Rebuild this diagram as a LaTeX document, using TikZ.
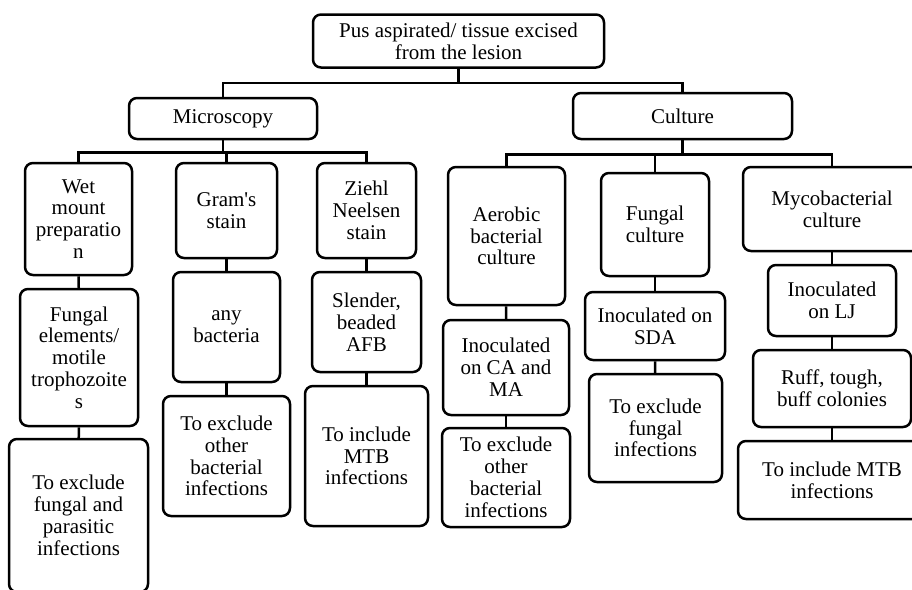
\documentclass[tikz,border=0pt]{standalone}
\usepackage{fontspec}
\setmainfont{Liberation Serif}[Ligatures=TeXOff]
\begin{document}
\begin{tikzpicture}[x=1pt,y=-1pt,
  box/.style={draw=black, line width=2.5pt, rounded corners=8pt, align=center,
    inner sep=1pt, font=\fontsize{21}{21.8}\selectfont},
  conn/.style={draw=black, line width=2.5pt}]
\useasboundingbox (0,0) rectangle (912,589);
\begin{scope}
\clip (0,0) rectangle (912,589);
% box macro: name, center x, center y, width, height, text
\newcommand\bx[6]{\node[box, minimum width=#4pt, minimum height=#5pt] (#1) at (#2,#3) {#6};}
\bx{root}{458.5}{41}{291}{53}{Pus aspirated/ tissue excised\\from the lesion}
\bx{micro}{223}{118.5}{188}{41}{Microscopy}
\bx{cult}{682.5}{116}{219}{46}{Culture}
% microscopy column
\bx{wet}{78.5}{219}{107}{112}{Wet\\mount\\preparatio\\n}
\bx{fel}{79}{357.5}{118}{137}{Fungal\\elements/\\motile\\trophozoite\\s}
\bx{wex}{78.5}{515.5}{139}{153}{To exclude\\fungal and\\parasitic\\infections}
\bx{gram}{226.5}{210.5}{101}{95}{Gram's\\stain}
\bx{anyb}{226.5}{327}{107}{110}{any\\bacteria}
\bx{gex}{226.5}{456}{127}{120}{To exclude\\other\\bacterial\\infections}
\bx{zn}{366.5}{210.5}{99}{95}{Ziehl\\Neelsen\\stain}
\bx{sl}{366.5}{322}{109}{100}{Slender,\\beaded\\AFB}
\bx{zin}{366.5}{456}{123}{140}{To include\\MTB\\infections}
% culture column
\bx{aer}{506.5}{236}{117}{138}{Aerobic\\bacterial\\culture}
\bx{ica}{506}{367.5}{126}{95}{Inoculated\\on CA and\\MA}
\bx{aex}{506}{477.5}{128}{99}{To exclude\\other\\bacterial\\infections}
\bx{fung}{655}{224.5}{108}{103}{Fungal\\culture}
\bx{isda}{655}{326}{140}{68}{Inoculated on\\SDA}
\bx{fex}{655.5}{428}{133}{108}{To exclude\\fungal\\infections}
\bx{myco}{832}{209}{178}{84}{Mycobacterial\\culture}
\bx{ilj}{832}{300.5}{128}{71}{Inoculated\\on LJ}
\bx{ruff}{832}{388.5}{158}{77}{Ruff, tough,\\buff colonies}
\bx{min}{832}{480}{188}{78}{To include MTB\\infections}
% connectors
\draw[conn] (root.south) -- ++(0,14) -| (micro.north);
\draw[conn] (root.south) ++(0,14) -| (cult.north);
\draw[conn] (micro.south) -- ++(0,12) -| (wet.north);
\draw[conn] (micro.south) ++(0,12) -| (gram.north);
\draw[conn] (micro.south) ++(0,12) -| (zn.north);
\draw[conn] (cult.south) -- ++(0,14) -| (aer.north);
\draw[conn] (cult.south) ++(0,14) -| (fung.north);
\draw[conn] (cult.south) ++(0,14) -| (myco.north);
\draw[conn] (wet) -- (fel);
\draw[conn] (fel) -- (wex);
\draw[conn] (gram) -- (anyb);
\draw[conn] (anyb) -- (gex);
\draw[conn] (zn) -- (sl);
\draw[conn] (sl) -- (zin);
\draw[conn] (aer) -- (ica);
\draw[conn] (ica) -- (aex);
\draw[conn] (fung) -- (isda);
\draw[conn] (isda) -- (fex);
\draw[conn] (myco) -- (ilj);
\draw[conn] (ilj) -- (ruff);
\draw[conn] (ruff) -- (min);
\end{scope}
\end{tikzpicture}
\end{document}
